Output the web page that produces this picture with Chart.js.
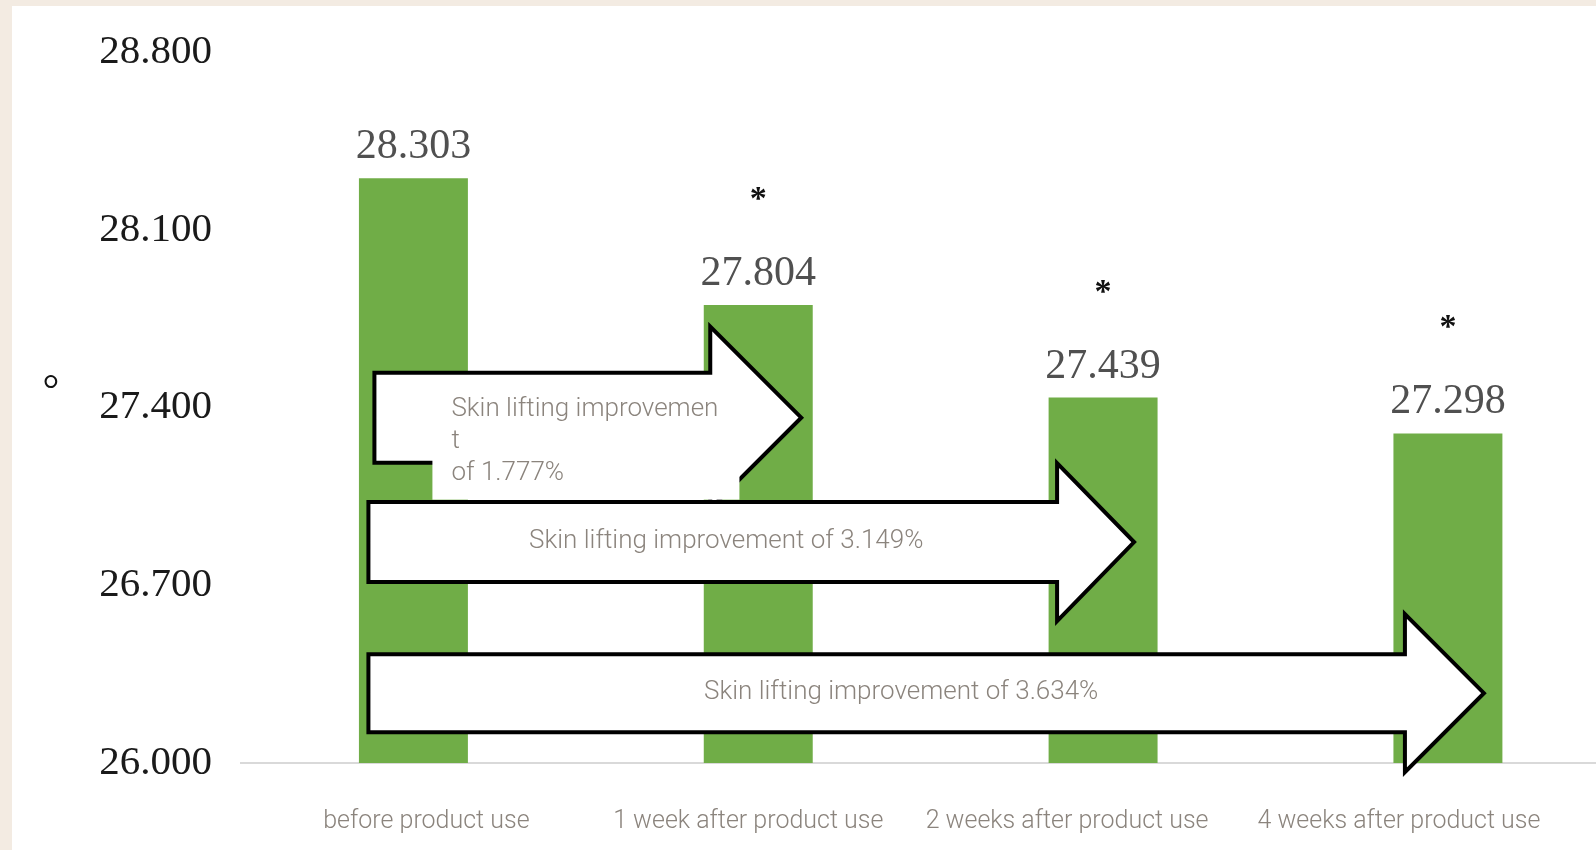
<!DOCTYPE html>
<html>
<head>
<meta charset="utf-8">
<script src="https://cdn.jsdelivr.net/npm/chart.js@4.4.1/dist/chart.umd.min.js"></script>
<style>
  html, body { margin: 0; padding: 0; background: #f3ebe2; overflow: hidden; }
  #wrap { position: absolute; left: 12px; top: 6px; width: 1623px; height: 890px; background: #fff; }
</style>
</head>
<body>
<div id="wrap"><canvas id="lifting-chart" width="1623" height="890"></canvas></div>
<script>
const categories = ['before product use', '1 week after product use', '2 weeks after product use', '4 weeks after product use'];
const values = [28.303, 27.804, 27.439, 27.298];
const marks = ['', '*', '*', '*'];
const yTicks = [26.0, 26.7, 27.4, 28.1, 28.8];

// arrows: all start at the first bar, end past bar arrowTo[i], centred on value arrowY[i]
const arrowTo = [1, 2, 3];
const arrowY = [27.36, 26.87, 26.275];
const arrowText = [
  ['Skin lifting improvemen', 't', 'of 1.777%'],
  ['Skin lifting improvement of 3.149%'],
  ['Skin lifting improvement of 3.634%']
];

const TXT = '#8b847d';
const serif = '"Liberation Serif", "Times New Roman", serif';
const sans = 'Roboto, "Open Sans", sans-serif';

// pixel geometry of each arrow and category label nudges (style only)
const arrowGeom = [
  { start: -39, tip: 43, head: 91, shaft: 45, wing: 91 },
  { start: -45, tip: 31, head: 77, shaft: 40, wing: 79 },
  { start: -45, tip: 36, head: 79, shaft: 39, wing: 79 }
];
const labelNudge = [13, -10, -36, -49];

const extras = {
  id: 'extras',
  afterDatasetsDraw(chart) {
    const ctx = chart.ctx;
    const xs = chart.scales.x, ys = chart.scales.y;
    const meta = chart.getDatasetMeta(0);

    // value labels and significance marks
    ctx.save();
    ctx.textAlign = 'center';
    meta.data.forEach((bar, i) => {
      ctx.fillStyle = '#505050';
      ctx.font = '42px ' + serif;
      ctx.textBaseline = 'alphabetic';
      ctx.fillText(values[i].toFixed(3), bar.x, bar.y - 20);
      if (marks[i]) {
        ctx.fillStyle = '#111';
        ctx.font = 'bold 34px ' + serif;
        ctx.fillText(marks[i], bar.x, bar.y - 96);
      }
    });

    // category labels under the axis
    ctx.font = '300 25px ' + sans;
    ctx.fillStyle = TXT;
    ctx.textBaseline = 'middle';
    categories.forEach((c, i) => {
      ctx.fillText(c, xs.getPixelForValue(i) + labelNudge[i], xs.top + 59);
    });
    ctx.restore();

    // block arrows
    arrowTo.forEach((to, i) => {
      const g = arrowGeom[i];
      const x0 = xs.getPixelForValue(0) + g.start;
      const xt = xs.getPixelForValue(to) + g.tip;
      const xh = xt - g.head;
      const yc = ys.getPixelForValue(arrowY[i]);
      ctx.save();
      ctx.beginPath();
      ctx.moveTo(x0, yc - g.shaft);
      ctx.lineTo(xh, yc - g.shaft);
      ctx.lineTo(xh, yc - g.wing);
      ctx.lineTo(xt, yc);
      ctx.lineTo(xh, yc + g.wing);
      ctx.lineTo(xh, yc + g.shaft);
      ctx.lineTo(x0, yc + g.shaft);
      ctx.closePath();
      ctx.fillStyle = '#fff';
      ctx.fill();
      ctx.lineWidth = 4;
      ctx.lineJoin = 'miter';
      ctx.strokeStyle = '#000';
      ctx.stroke();

      ctx.font = '300 26px ' + sans;
      ctx.fillStyle = TXT;
      ctx.textBaseline = 'middle';
      if (arrowText[i].length > 1) {
        // first arrow: wrapped text in a white box
        const bx = x0 + 58, by = yc - 25;
        ctx.fillStyle = '#fff';
        ctx.fillRect(bx, by, 307, 107);
        ctx.fillStyle = TXT;
        ctx.textAlign = 'left';
        arrowText[i].forEach((line, k) => ctx.fillText(line, bx + 19, yc - 8 + k * 32));
      } else {
        ctx.textAlign = 'center';
        ctx.fillText(arrowText[i][0], (x0 + xt) / 2 - 25, yc - 1);
      }
      ctx.restore();
    });
  },
  afterDraw(chart) {
    const ctx = chart.ctx;
    ctx.save();
    ctx.font = '42px ' + serif;
    ctx.fillStyle = '#111';
    ctx.textAlign = 'center';
    ctx.textBaseline = 'middle';
    ctx.fillText('°', 39, 386);
    ctx.restore();
  }
};

const chart = new Chart(document.getElementById('lifting-chart').getContext('2d'), {
  type: 'bar',
  data: {
    labels: categories,
    datasets: [{
      data: values,
      backgroundColor: '#70ad47',
      borderWidth: 0,
      barPercentage: 0.316,
      categoryPercentage: 1
    }]
  },
  options: {
    responsive: false,
    animation: false,
    layout: { padding: { top: 46, right: 5, bottom: 13, left: 0 } },
    plugins: { legend: { display: false }, tooltip: { enabled: false } },
    scales: {
      x: {
        grid: { display: false, drawTicks: false },
        border: { display: true, color: '#d9d9d9', width: 2 },
        ticks: {
          // drawn by the plugin with per-label nudges; kept here for layout space
          color: 'rgba(0,0,0,0)',
          font: { family: 'Roboto', size: 25, weight: 300 },
          padding: 45,
          maxRotation: 0,
          autoSkip: false
        }
      },
      y: {
        min: 26,
        max: 28.8,
        afterBuildTicks: s => { s.ticks = yTicks.map(v => ({ value: v })); },
        afterFit: s => { s.width = 229; s.paddingTop = 0; s.paddingBottom = 0; },
        grid: { display: false, drawTicks: false },
        border: { display: false },
        ticks: {
          color: '#1a1a1a',
          font: { family: 'Liberation Serif', size: 41 },
          padding: 29,
          callback: v => Number(v).toFixed(3)
        }
      }
    }
  },
  plugins: [extras]
});
</script>
</body>
</html>
